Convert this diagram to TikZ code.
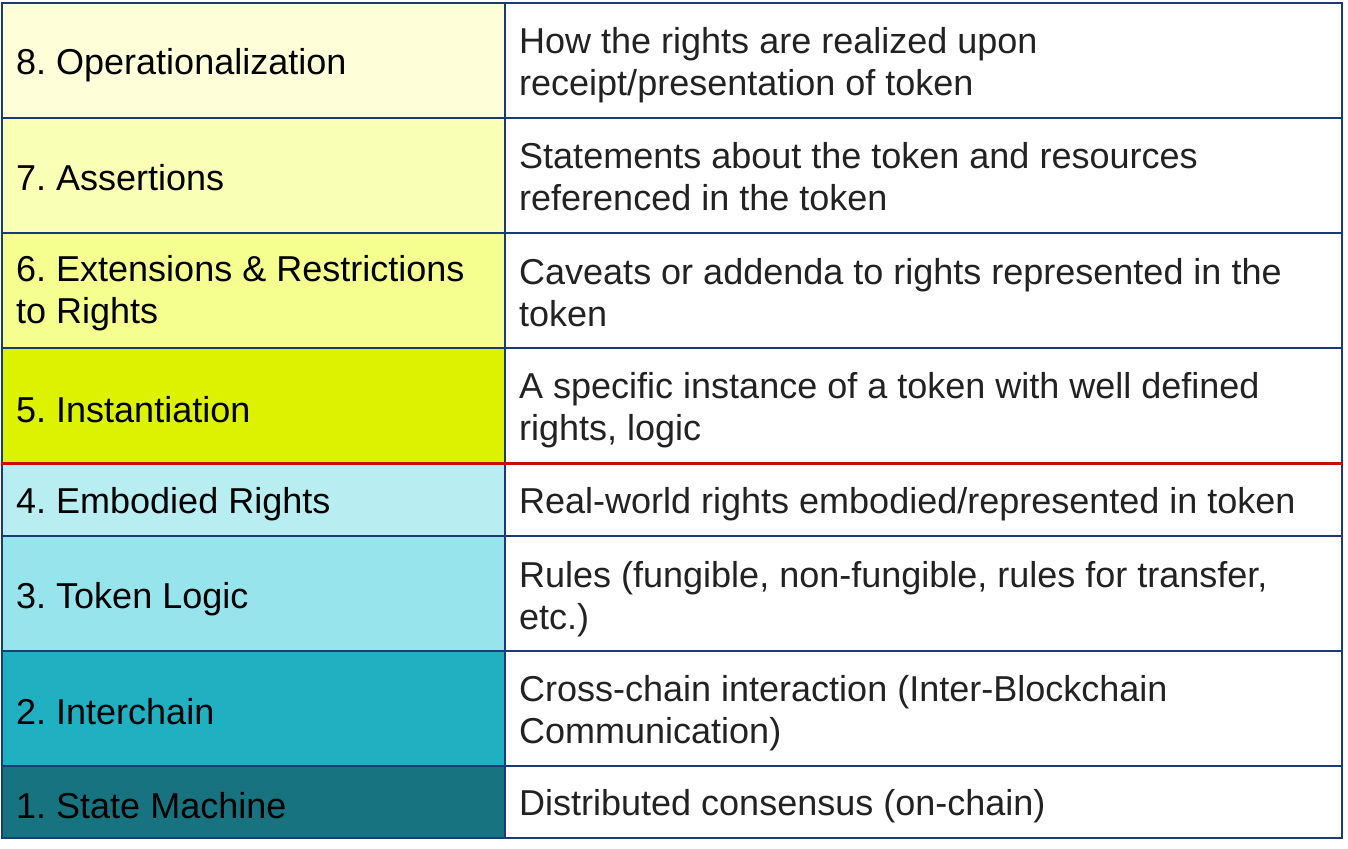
\documentclass[tikz,border=0pt]{standalone}
\usepackage{fontspec}
\setmainfont{Liberation Sans}
\frenchspacing
\definecolor{grid}{HTML}{1C3A78}
\definecolor{redline}{HTML}{CC0A0A}
\definecolor{txtr}{HTML}{222222}
\definecolor{cA}{HTML}{FEFFD9}
\definecolor{cB}{HTML}{F9FFB5}
\definecolor{cC}{HTML}{F4FF90}
\definecolor{cD}{HTML}{DDF200}
\definecolor{cE}{HTML}{B8EDF2}
\definecolor{cF}{HTML}{97E4ED}
\definecolor{cG}{HTML}{21AFC2}
\definecolor{cH}{HTML}{17737F}
\begin{document}
\begin{tikzpicture}[x=1pt,y=-1pt,
  lefttxt/.style={anchor=west,inner sep=0pt,align=left,font=\fontsize{36}{42}\selectfont,text=black},
  righttxt/.style={anchor=west,inner sep=0pt,align=left,font=\fontsize{36}{42}\selectfont,text=txtr},
  gridline/.style={draw=grid,line width=2pt}]
\useasboundingbox (0,0) rectangle (1348,848);
\fill[white] (0,0) rectangle (1348,848);
% fills
\fill[cA] (2,3) rectangle (505,118);
\fill[cB] (2,118) rectangle (505,233);
\fill[cC] (2,233) rectangle (505,348);
\fill[cD] (2,348) rectangle (505,463);
\fill[cE] (2,463) rectangle (505,536);
\fill[cF] (2,536) rectangle (505,651);
\fill[cG] (2,651) rectangle (505,766);
\fill[cH] (2,766) rectangle (505,838);
% grid
\draw[gridline] (2,3) rectangle (1342,838);
\draw[gridline] (505,3) -- (505,838);
\foreach \yy in {118,233,348,536,651,766}{
  \draw[gridline] (2,\yy) -- (1342,\yy);
}
\draw[redline,line width=3pt] (1,463) -- (1342,463);
% left texts
\node[lefttxt] (l8) at (16,65) {8. Operationalization};
\node[lefttxt] (l7) at (16,178) {7. Assertions};
\node[lefttxt] (l6) at (16,293) {6. Extensions \& Restrictions\\to Rights};
\node[lefttxt] (l5) at (16,410) {5. Instantiation};
\node[lefttxt] (l4) at (16,504) {4. Embodied Rights};
\node[lefttxt] (l3) at (16,599) {3. Token Logic};
\node[lefttxt] (l2) at (16,712) {2. Interchain};
\node[lefttxt] (l1) at (16,806) {1. State Machine};
% right texts
\node[righttxt] (r8) at (519,65) {How the rights are realized upon\\receipt/presentation of token};
\node[righttxt] (r7) at (519,177) {Statements about the token and resources\\referenced in the token};
\node[righttxt] (r6) at (519,293) {Caveats or addenda to rights represented in the\\token};
\node[righttxt] (r5) at (519,410) {A specific instance of a token with well defined\\rights, logic};
\node[righttxt] (r4) at (519,504) {Real-world rights embodied/represented in token};
\node[righttxt] (r3) at (519,599) {Rules (fungible, non-fungible, rules for transfer,\\etc.)};
\node[righttxt] (r2) at (519,713) {Cross-chain interaction (Inter-Blockchain\\Communication)};
\node[righttxt] (r1) at (519,806) {Distributed consensus (on-chain)};
\end{tikzpicture}
\end{document}
